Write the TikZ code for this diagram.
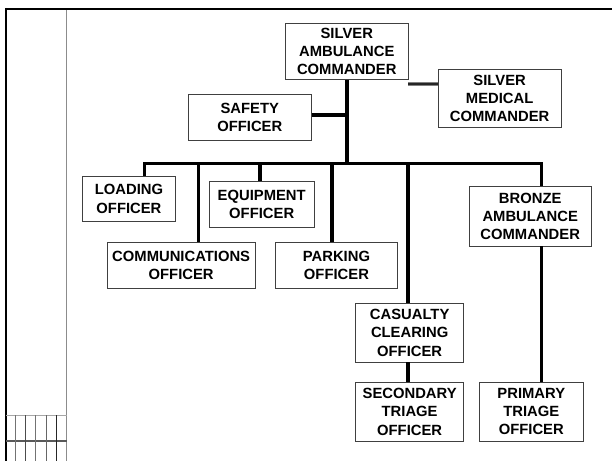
\documentclass[tikz,border=0pt]{standalone}
\usepackage{fontspec}
\setmainfont{Liberation Sans}[BoldFont={Liberation Sans Bold}]
\newfontfamily\labelfont{Liberation Sans Bold}
\begin{document}
\begin{tikzpicture}[x=1bp,y=-1bp,
  box/.style={draw=black!75,line width=0.9bp,fill=white,align=center,
    inner sep=0pt,font=\labelfont\fontsize{14.8bp}{18.3bp}\selectfont},
  conn/.style={line width=3.7bp,line join=miter},
  frame/.style={line width=2.4bp},
  rule/.style={draw=black!45,line width=0.8bp},
  link/.style={draw=black!50,double=black!85,double distance=1.8bp,line width=1.1bp}]
\useasboundingbox (0,0) rectangle (612,461);

% page frame and margin
\draw[frame] (5,9.2) -- (612,9.2);
\draw[frame] (6.2,8) -- (6.2,461);
\draw[rule] (66.7,10.4) -- (66.7,461);
\draw[rule,draw=black!35] (6,415) -- (66.7,415);
\draw[rule,draw=black!65,line width=1.1bp] (6,441) -- (66.7,441);
\foreach \gx/\gc in {15.7/55,25.7/70,35.7/55,46/60,56.7/85}
  \draw[rule,draw=black!\gc] (\gx,415) -- (\gx,461);

% boxes
\node[box,minimum width=122.5bp,minimum height=56bp] (sac) at (346.75,51.3)
  {SILVER\\AMBULANCE\\COMMANDER};
\node[box,minimum width=122.7bp,minimum height=58.5bp] (smc) at (499.65,98.25)
  {SILVER\\MEDICAL\\COMMANDER};
\node[box,minimum width=122.6bp,minimum height=45.7bp] (safety) at (249.8,117.15)
  {SAFETY\\OFFICER};
\node[box,minimum width=93bp,minimum height=45.7bp] (loading) at (128.95,198.85)
  {LOADING\\OFFICER};
\node[box,minimum width=105bp,minimum height=46.3bp] (equip) at (261.7,204.15)
  {EQUIPMENT\\OFFICER};
\node[box,minimum width=147.7bp,minimum height=45.7bp] (comm) at (181.15,265.15)
  {COMMUNICATIONS\\OFFICER};
\node[box,minimum width=121.7bp,minimum height=45.7bp] (parking) at (336.45,265.15)
  {PARKING\\OFFICER};
\node[box,minimum width=108.1bp,minimum height=58.7bp] (casualty) at (409.65,332.65)
  {CASUALTY\\CLEARING\\OFFICER};
\node[box,minimum width=108.1bp,minimum height=58.7bp] (secondary) at (409.65,411.65)
  {SECONDARY\\TRIAGE\\OFFICER};
\node[box,minimum width=122bp,minimum height=59.5bp] (bronze) at (530.2,216.3)
  {BRONZE\\AMBULANCE\\COMMANDER};
\node[box,minimum width=104bp,minimum height=58.7bp] (primary) at (531.3,411.65)
  {PRIMARY\\TRIAGE\\OFFICER};

% points where the officers hang from the bus
\coordinate (bus) at (347.3,163.5);
\coordinate (dLoad) at (144.4,163.5);
\coordinate (dComm) at (198.6,163.5);
\coordinate (dEquip) at (260,163.5);
\coordinate (dPark) at (332,163.5);
\coordinate (dCas) at (408,163.5);
\coordinate (dBronze) at (541.5,163.5);
\coordinate (tSafety) at (347.3,115);

% connectors
\draw[conn] (bus |- sac.south) -- (bus);
\draw[conn] (safety.east |- tSafety) -- (tSafety);
\draw[conn] (dLoad |- loading.north) -- (dLoad) -- (dBronze) -- (dBronze |- bronze.north);
\draw[conn] (dComm) -- (dComm |- comm.north);
\draw[conn] (dEquip) -- (dEquip |- equip.north);
\draw[conn] (dPark) -- (dPark |- parking.north);
\draw[conn] (dCas) -- (dCas |- casualty.north);
\draw[conn] (dCas |- casualty.south) -- (dCas |- secondary.north);
\draw[conn] (dBronze |- bronze.south) -- (dBronze |- primary.north);
\draw[link] ([yshift=-4.3bp]sac.south east) -- ([yshift=-4.3bp]sac.south east -| smc.west);
\end{tikzpicture}
\end{document}
